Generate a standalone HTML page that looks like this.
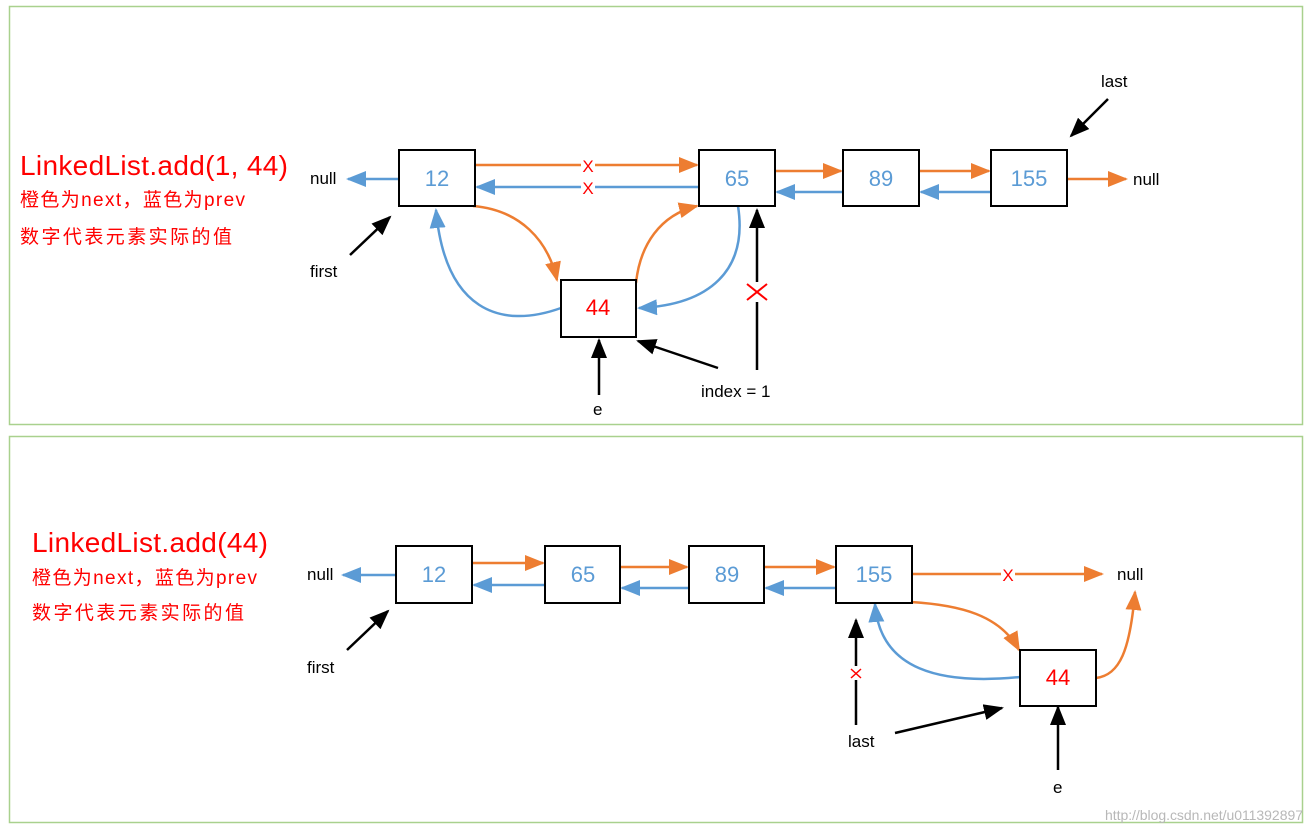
<!DOCTYPE html>
<html><head><meta charset="utf-8"><style>
html,body{margin:0;padding:0;background:#fff;}
svg{display:block;}
text{font-family:"Liberation Sans","Noto Sans CJK SC",sans-serif;}
</style></head><body>
<svg width="1314" height="836" viewBox="0 0 1314 836" xmlns="http://www.w3.org/2000/svg">
<defs>
<marker id="o" viewBox="0 0 20 16" refX="18" refY="8" markerWidth="20" markerHeight="16" markerUnits="userSpaceOnUse" orient="auto"><path d="M0,0 L20,8 L0,16 z" fill="#ed7d31"/></marker>
<marker id="b" viewBox="0 0 20 16" refX="18" refY="8" markerWidth="20" markerHeight="16" markerUnits="userSpaceOnUse" orient="auto"><path d="M0,0 L20,8 L0,16 z" fill="#5b9bd5"/></marker>
<marker id="k" viewBox="0 0 20 16" refX="18" refY="8" markerWidth="20" markerHeight="16" markerUnits="userSpaceOnUse" orient="auto"><path d="M0,0 L20,8 L0,16 z" fill="#000"/></marker>
</defs>
<rect x="9.5" y="6.5" width="1293" height="418" fill="none" stroke="#a9d18e" stroke-width="1.5"/>
<rect x="9.5" y="436.5" width="1293" height="386" fill="none" stroke="#a9d18e" stroke-width="1.5"/>

<!-- TOP -->
<text x="20" y="175" font-size="28" fill="#ff0000" textLength="268">LinkedList.add(1, 44)</text>
<text x="20" y="206" font-size="19" fill="#ff0000" textLength="225">橙色为next，蓝色为prev</text>
<text x="20" y="243" font-size="19" fill="#ff0000" textLength="212">数字代表元素实际的值</text>

<g stroke-width="2.5" fill="none">
<line x1="399" y1="179" x2="348" y2="179" stroke="#5b9bd5" marker-end="url(#b)"/>
<line x1="475" y1="165" x2="697" y2="165" stroke="#ed7d31" marker-end="url(#o)"/>
<line x1="699" y1="187" x2="477" y2="187" stroke="#5b9bd5" marker-end="url(#b)"/>
<line x1="775" y1="171" x2="841" y2="171" stroke="#ed7d31" marker-end="url(#o)"/>
<line x1="843" y1="192" x2="777" y2="192" stroke="#5b9bd5" marker-end="url(#b)"/>
<line x1="919" y1="171" x2="989" y2="171" stroke="#ed7d31" marker-end="url(#o)"/>
<line x1="991" y1="192" x2="921" y2="192" stroke="#5b9bd5" marker-end="url(#b)"/>
<line x1="1067" y1="179" x2="1126" y2="179" stroke="#ed7d31" marker-end="url(#o)"/>
<path d="M473,206 C520,210 548,240 557,280" stroke="#ed7d31" marker-end="url(#o)"/>
<path d="M636,283 C640,245 660,215 697,206" stroke="#ed7d31" marker-end="url(#o)"/>
<path d="M561,308 C500,330 445,310 436,210" stroke="#5b9bd5" marker-end="url(#b)"/>
<path d="M738,206 C748,270 710,305 639,308" stroke="#5b9bd5" marker-end="url(#b)"/>
</g>
<g stroke="#000" stroke-width="2.5">
<line x1="350" y1="255" x2="390" y2="217" marker-end="url(#k)"/>
<line x1="1108" y1="99" x2="1071" y2="136" marker-end="url(#k)"/>
<line x1="757" y1="370" x2="757" y2="210" marker-end="url(#k)"/>
<line x1="599" y1="395" x2="599" y2="340" marker-end="url(#k)"/>
<line x1="718" y1="368" x2="638" y2="341" marker-end="url(#k)"/>
</g>
<g fill="#fff" stroke="#000" stroke-width="2">
<rect x="399" y="150" width="76" height="56"/>
<rect x="699" y="150" width="76" height="56"/>
<rect x="843" y="150" width="76" height="56"/>
<rect x="991" y="150" width="76" height="56"/>
<rect x="561" y="280" width="75" height="57"/>
</g>
<g font-size="22" fill="#5b9bd5" text-anchor="middle">
<text x="437" y="186">12</text><text x="737" y="186">65</text><text x="881" y="186">89</text><text x="1029" y="186">155</text>
</g>
<text x="598" y="315" font-size="22" fill="#ff0000" text-anchor="middle">44</text>
<g font-size="17" fill="#ff0000" text-anchor="middle">
<rect x="581" y="157" width="14" height="34" fill="#fff"/>
<text x="588" y="172">X</text><text x="588" y="194">X</text>
</g>
<rect x="746" y="282" width="22" height="20" fill="#fff"/>
<path d="M747,284 L767,300 M767,284 L747,300" stroke="#ff0000" stroke-width="2"/>
<g font-size="17" fill="#000">
<text x="310" y="184">null</text><text x="1133" y="185">null</text>
<text x="310" y="277">first</text><text x="1101" y="87">last</text>
<text x="701" y="397">index = 1</text><text x="593" y="415">e</text>
</g>

<!-- BOTTOM -->
<text x="32" y="552" font-size="28" fill="#ff0000" textLength="236">LinkedList.add(44)</text>
<text x="32" y="584" font-size="19" fill="#ff0000" textLength="225">橙色为next，蓝色为prev</text>
<text x="32" y="619" font-size="19" fill="#ff0000" textLength="212">数字代表元素实际的值</text>
<g stroke-width="2.5" fill="none">
<line x1="396" y1="575" x2="343" y2="575" stroke="#5b9bd5" marker-end="url(#b)"/>
<line x1="472" y1="563" x2="543" y2="563" stroke="#ed7d31" marker-end="url(#o)"/>
<line x1="545" y1="585" x2="474" y2="585" stroke="#5b9bd5" marker-end="url(#b)"/>
<line x1="620" y1="567" x2="687" y2="567" stroke="#ed7d31" marker-end="url(#o)"/>
<line x1="689" y1="588" x2="622" y2="588" stroke="#5b9bd5" marker-end="url(#b)"/>
<line x1="764" y1="567" x2="834" y2="567" stroke="#ed7d31" marker-end="url(#o)"/>
<line x1="836" y1="588" x2="766" y2="588" stroke="#5b9bd5" marker-end="url(#b)"/>
<line x1="912" y1="574" x2="1102" y2="574" stroke="#ed7d31" marker-end="url(#o)"/>
<path d="M911,602 C960,605 1000,615 1019,650" stroke="#ed7d31" marker-end="url(#o)"/>
<path d="M1096,678 C1120,675 1130,650 1135,592" stroke="#ed7d31" marker-end="url(#o)"/>
<path d="M1020,677 C940,685 880,670 875,604" stroke="#5b9bd5" marker-end="url(#b)"/>
</g>
<g stroke="#000" stroke-width="2.5">
<line x1="347" y1="650" x2="388" y2="611" marker-end="url(#k)"/>
<line x1="856" y1="725" x2="856" y2="620" marker-end="url(#k)"/>
<line x1="895" y1="733" x2="1002" y2="708" marker-end="url(#k)"/>
<line x1="1058" y1="770" x2="1058" y2="707" marker-end="url(#k)"/>
</g>
<g fill="#fff" stroke="#000" stroke-width="2">
<rect x="396" y="546" width="76" height="57"/>
<rect x="545" y="546" width="75" height="57"/>
<rect x="689" y="546" width="75" height="57"/>
<rect x="836" y="546" width="76" height="57"/>
<rect x="1020" y="650" width="76" height="56"/>
</g>
<g font-size="22" fill="#5b9bd5" text-anchor="middle">
<text x="434" y="582">12</text><text x="583" y="582">65</text><text x="727" y="582">89</text><text x="874" y="582">155</text>
</g>
<text x="1058" y="685" font-size="22" fill="#ff0000" text-anchor="middle">44</text>
<rect x="1001" y="566" width="14" height="16" fill="#fff"/>
<text x="1008" y="581" font-size="17" fill="#ff0000" text-anchor="middle">X</text>
<rect x="849" y="666" width="14" height="14" fill="#fff"/>
<path d="M851,669 L861,678 M861,669 L851,678" stroke="#ff0000" stroke-width="1.5"/>
<g font-size="17" fill="#000">
<text x="307" y="580">null</text><text x="1117" y="580">null</text>
<text x="307" y="673">first</text><text x="848" y="747">last</text>
<text x="1053" y="793">e</text>
</g>
<text x="1303" y="820" font-size="14" fill="#b8b8b8" text-anchor="end" font-family="Liberation Mono,monospace" textLength="198">http://blog.csdn.net/u011392897</text>
</svg>
</body></html>
